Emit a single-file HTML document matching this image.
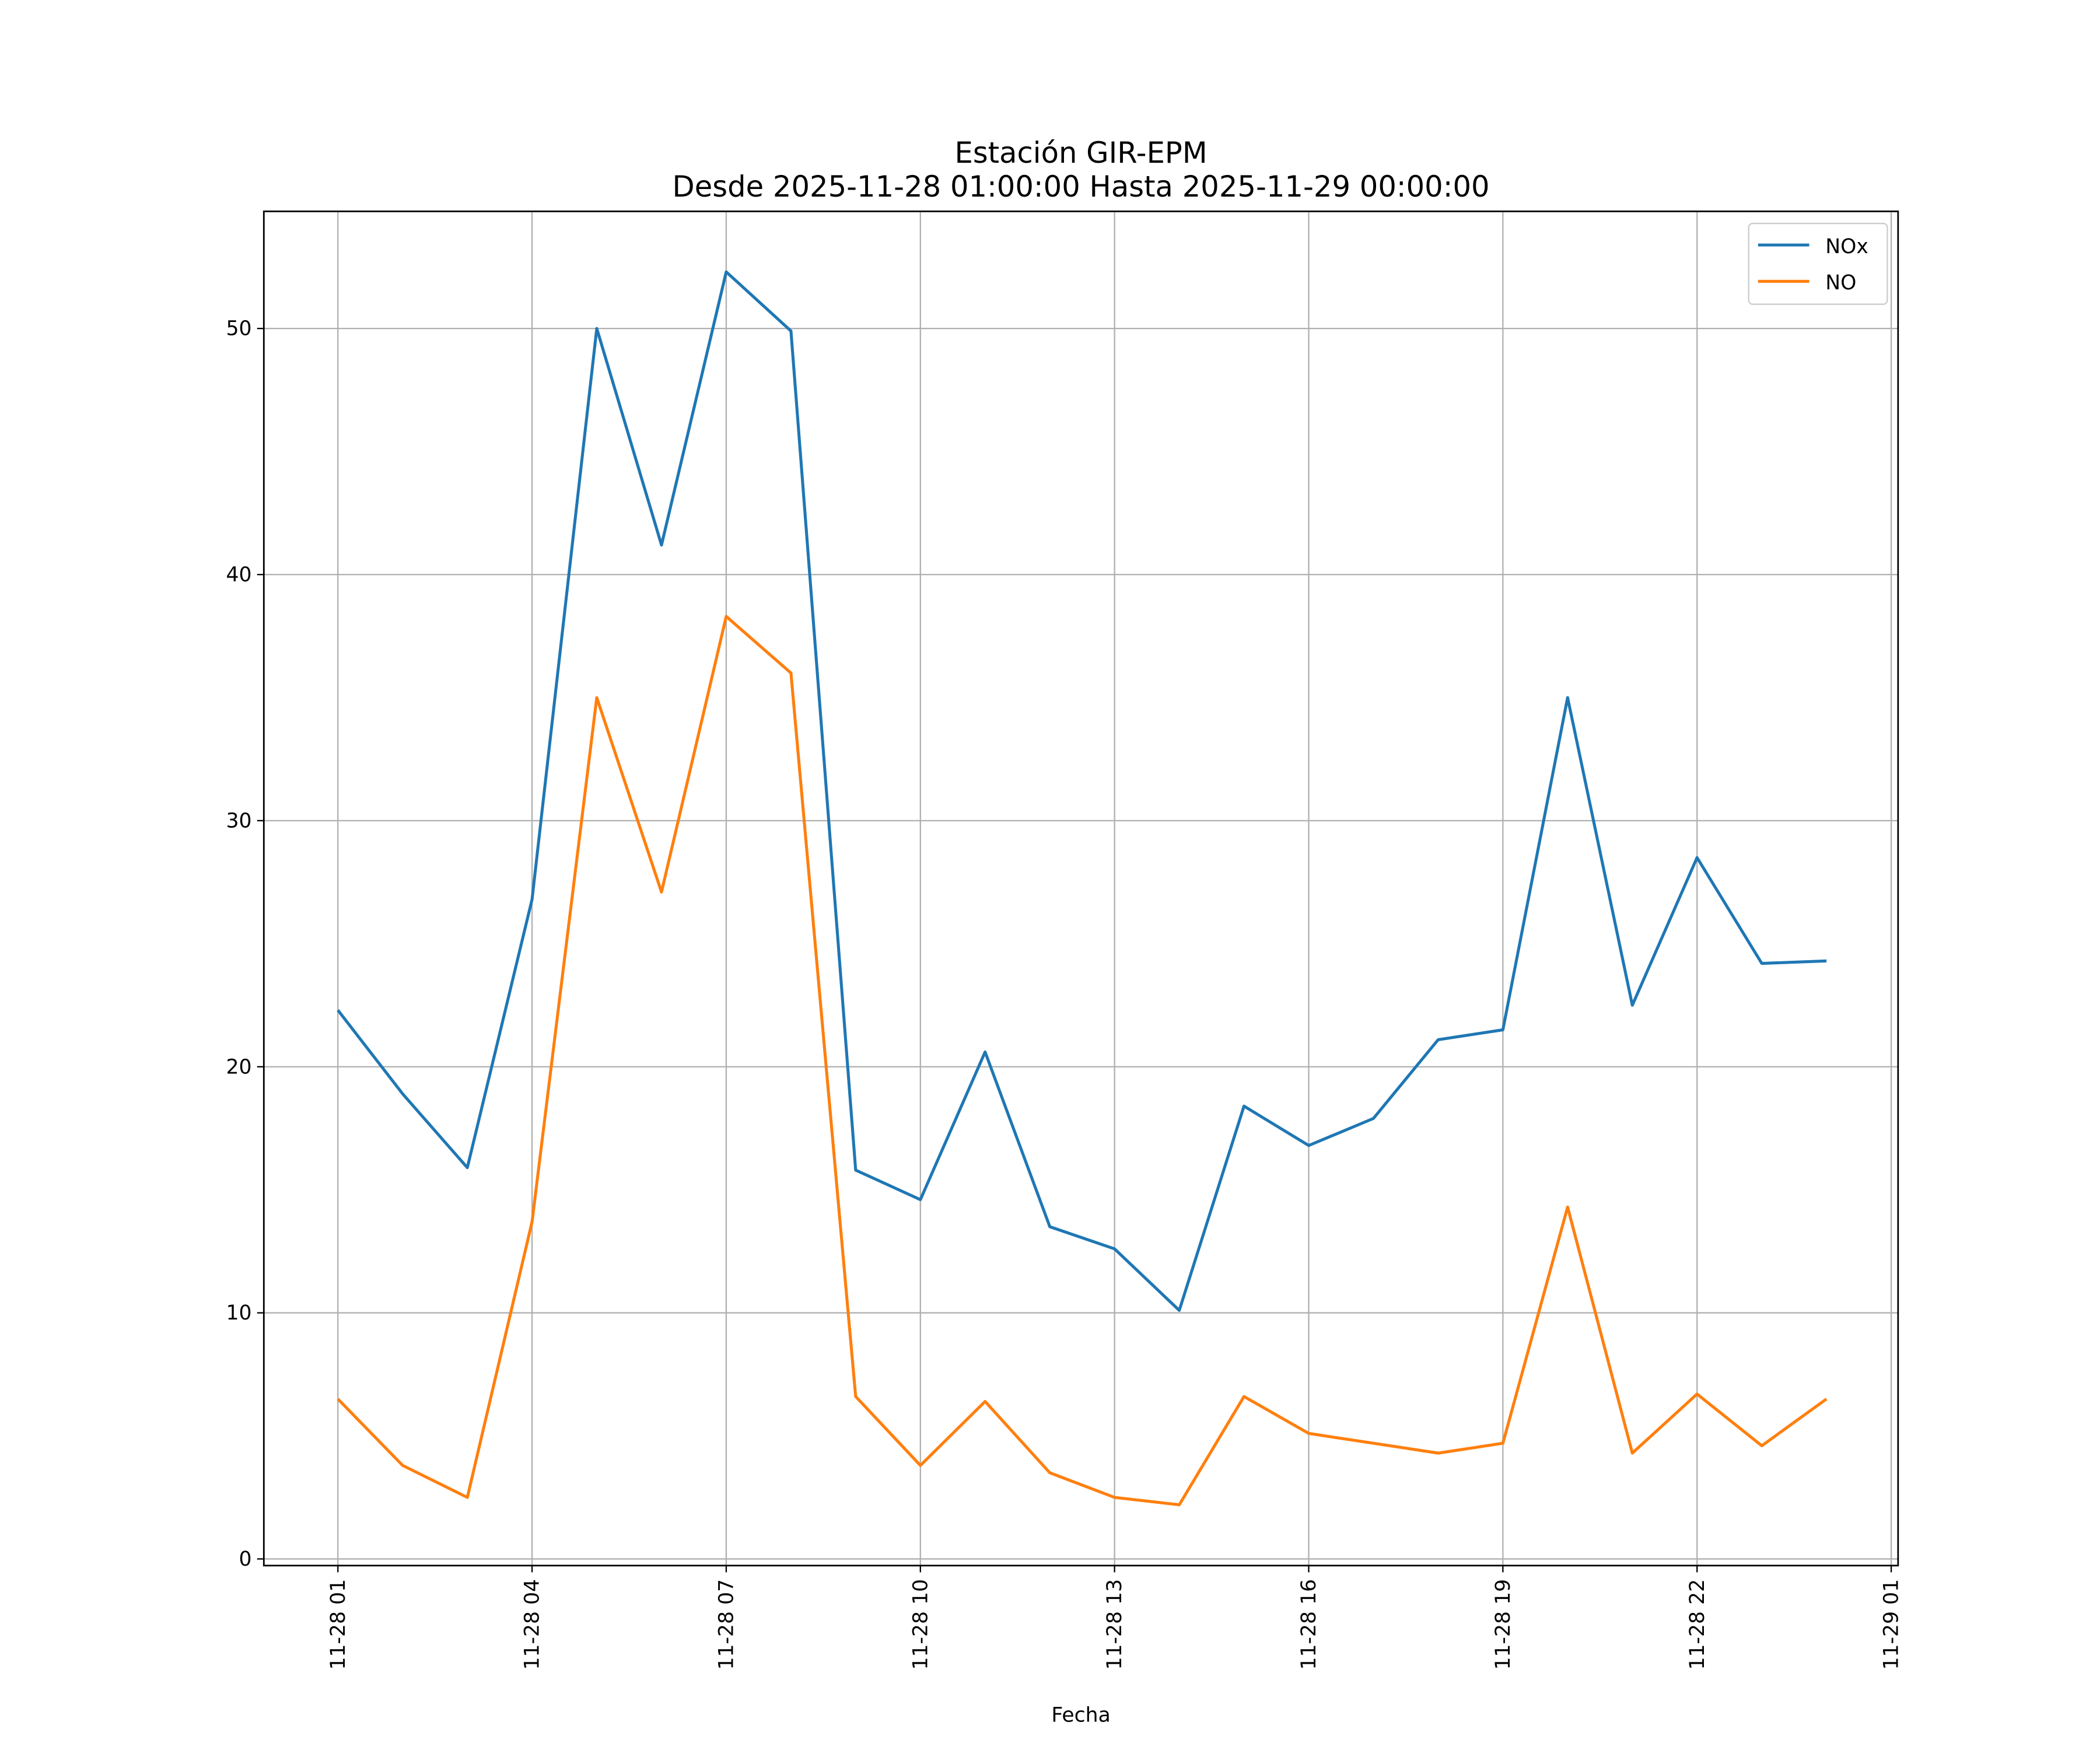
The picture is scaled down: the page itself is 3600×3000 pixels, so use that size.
<!DOCTYPE html>
<html><head><meta charset="utf-8"><style>
html,body{margin:0;padding:0;background:#fff}
svg{display:block}
text{font-family:"DejaVu Sans","Liberation Sans",sans-serif;fill:#000}
</style></head><body>
<svg id="chart" width="3600" height="3000" viewBox="0 0 1560 1300" xmlns="http://www.w3.org/2000/svg">
<rect width="1560" height="1300" fill="#fff"/>
<text x="803" y="121" font-size="21.5" text-anchor="middle">Estación GIR-EPM</text>
<text x="803" y="146" font-size="21.5" text-anchor="middle">Desde 2025-11-28 01:00:00 Hasta 2025-11-29 00:00:00</text>
<g id="grid"></g>
<g id="series"></g>
<rect x="196" y="157" width="1214" height="1006" fill="none" stroke="#000" stroke-width="1.2"/>
<g id="ticks"></g>
<text x="803" y="1279" font-size="15" text-anchor="middle">Fecha</text>
<g>
<rect x="1299" y="166" width="103" height="60" rx="3" fill="#fff" stroke="#ccc"/>
<line x1="1306" y1="182" x2="1344" y2="182" stroke="#1f77b4" stroke-width="2.2"/>
<text x="1356" y="188" font-size="15">NOx</text>
<line x1="1306" y1="209" x2="1344" y2="209" stroke="#ff7f0e" stroke-width="2.2"/>
<text x="1356" y="215" font-size="15">NO</text>
</g>
</svg>
<script>
const hours = [1,2,3,4,5,6,7,8,9,10,11,12,13,14,15,16,17,18,19,20,21,22,23,24];
const noxValues = [22.3,18.9,15.9,26.8,50.0,41.2,52.3,49.9,15.8,14.6,20.6,13.5,12.6,10.1,18.4,16.8,17.9,21.1,21.5,35.0,22.5,28.5,24.2,24.3];
const noValues = [6.5,3.8,2.5,13.7,35.0,27.1,38.3,36.0,6.6,3.8,6.4,3.5,2.5,2.2,6.6,5.1,4.7,4.3,4.7,14.3,4.3,6.7,4.6,6.5];
const yTicks = [0,10,20,30,40,50];
const xTickHours = [1,4,7,10,13,16,19,22,25];
const xTickLabels = ["11-28 01","11-28 04","11-28 07","11-28 10","11-28 13","11-28 16","11-28 19","11-28 22","11-29 01"];

const L=196,R=1410,T=157,B=1163;
const yMin=-0.27,yMax=54.76,xMin=-0.144,xMax=25.106;
const xs=h=>L+(h-xMin)/(xMax-xMin)*(R-L);
const ys=v=>B-(v-yMin)/(yMax-yMin)*(B-T);
const NS="http://www.w3.org/2000/svg";
const mk=(t,a)=>{const e=document.createElementNS(NS,t);for(const k in a)e.setAttribute(k,a[k]);return e;};
const grid=document.getElementById('grid'),ticks=document.getElementById('ticks'),series=document.getElementById('series');

yTicks.forEach(v=>{
  const y=ys(v);
  const g=mk('line',{x1:L,x2:R,y1:y,y2:y,stroke:'#b0b0b0','stroke-width':1});
  
  
  grid.appendChild(g);
  const t=mk('line',{x1:L-5,x2:L,y1:y,y2:y,stroke:'#000','stroke-width':1});
  
  
  ticks.appendChild(t);
  const l=mk('text',{x:L-9,y:y+5,'font-size':15,'text-anchor':'end'});
  l.textContent=v;
  
  
  ticks.appendChild(l);
});
xTickHours.forEach((h,i)=>{
  const x=xs(h);
  const g=mk('line',{x1:x,x2:x,y1:T,y2:B,stroke:'#b0b0b0','stroke-width':1});
  
  
  grid.appendChild(g);
  const t=mk('line',{x1:x,x2:x,y1:B,y2:B+5,stroke:'#000','stroke-width':1});
  
  
  ticks.appendChild(t);
  const l=mk('text',{x:0,y:0,'font-size':15,'text-anchor':'end',transform:`translate(${x+5},${B+10}) rotate(-90)`});
  l.textContent=xTickLabels[i];
  
  
  ticks.appendChild(l);
});
function drawLine(vals,color,name){
  const pts=vals.map((v,i)=>xs(hours[i]).toFixed(2)+','+ys(v).toFixed(2)).join(' ');
  const p=mk('polyline',{points:pts,fill:'none',stroke:color,'stroke-width':2.2,'stroke-linejoin':'round'});
  
  
  series.appendChild(p);
}
drawLine(noxValues,'#1f77b4','nox-line');
drawLine(noValues,'#ff7f0e','no-line');
</script>
</body></html>
